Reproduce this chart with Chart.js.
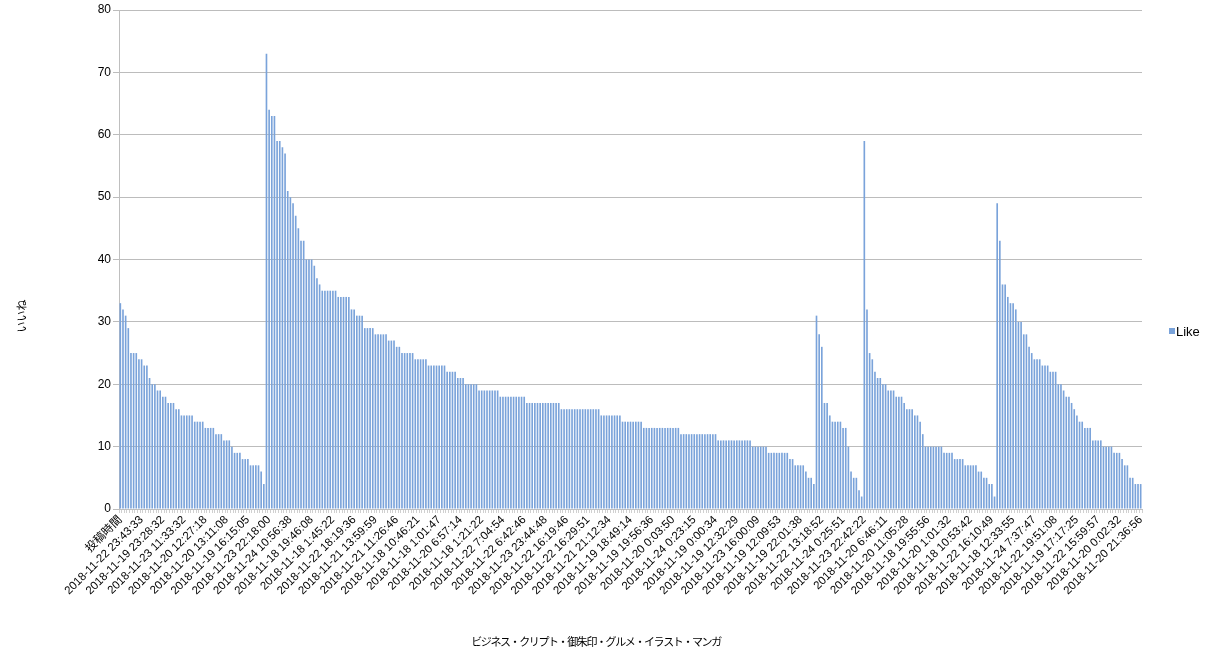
<!DOCTYPE html>
<html>
<head>
<meta charset="utf-8">
<script src="https://cdn.jsdelivr.net/npm/chart.js@4/dist/chart.umd.min.js"></script>
<style>
html,body{margin:0;padding:0;background:#fff;}
#wrap{width:1214px;height:656px;position:relative;}
</style>
</head>
<body>
<div id="wrap"><canvas id="c" width="1214" height="656"></canvas></div>
<script>
// ---- data ----
const seriesName = 'Like';
const yTitle = 'いいね';
const xTitle = 'ビジネス・クリプト・御朱印・グルメ・イラスト・マンガ';
const yTicks = [0, 10, 20, 30, 40, 50, 60, 70, 80];
const labelStep = 8;
const tickLabels = ['投稿時間','2018-11-22 23:43:33','2018-11-19 23:28:32','2018-11-23 11:33:32','2018-11-20 12:27:18','2018-11-20 13:11:08','2018-11-19 16:15:05','2018-11-23 22:18:00','2018-11-24 10:56:38','2018-11-18 19:46:08','2018-11-18 1:45:22','2018-11-22 18:19:36','2018-11-21 13:59:59','2018-11-21 11:26:46','2018-11-18 10:46:21','2018-11-18 1:01:47','2018-11-20 6:57:14','2018-11-18 1:21:22','2018-11-22 7:04:54','2018-11-22 6:42:46','2018-11-23 23:44:48','2018-11-22 16:19:46','2018-11-22 16:29:51','2018-11-21 21:12:34','2018-11-19 18:49:14','2018-11-19 19:56:36','2018-11-20 0:03:50','2018-11-24 0:23:15','2018-11-19 0:00:34','2018-11-19 12:32:29','2018-11-23 16:00:09','2018-11-19 12:09:53','2018-11-19 22:01:38','2018-11-22 13:18:52','2018-11-24 0:25:51','2018-11-23 22:42:22','2018-11-20 6:46:11','2018-11-20 11:05:28','2018-11-18 19:55:56','2018-11-20 1:01:32','2018-11-18 10:53:42','2018-11-22 16:10:49','2018-11-18 12:33:55','2018-11-24 7:37:47','2018-11-22 19:51:08','2018-11-19 17:17:25','2018-11-22 15:59:57','2018-11-20 0:02:32','2018-11-20 21:36:56'];

const seg1 = [33,32,31,29,25,25,25,24,24,23,23,21,20,20,19,19,18,18,17,17,17,16,16,15,15,15,15,15,14,14,14,14,13,13,13,13,12,12,12,11,11,11,10,9,9,9,8,8,8,7,7,7,7,6,4];
const seg2 = [73,64,63,63,59,59,58,57,51,50,49,47,45,43,43,40,40,40,39,37,36,35,35,35,35,35,35,34,34,34,34,34,32,32,31,31,31,29,29,29,29,28,28,28,28,28,27,27,27,26,26,25,25,25,25,25,
  24,24,24,24,24,23,23,23,23,23,23,23,22,22,22,22,21,21,21,20,20,20,20,20,19,19,19,19,19,19,19,19,18,18,18,18,18,18,18,18,18,18,17,17,17,17,17,17,17,17,17,17,17,17,17,16,16,16,16,16,16,16,16,16,16,16,16,16,16,16,
  15,15,15,15,15,15,15,15,14,14,14,14,14,14,14,14,13,13,13,13,13,13,13,13,13,13,13,13,13,13,12,12,12,12,12,12,12,12,12,12,12,12,12,12,11,11,11,11,11,11,11,11,11,11,11,11,11,10,10,10,10,10,10,9,9,9,9,9,9,9,9,8,8,7,7,7,7,6,5,5,4];
const seg3 = [31,28,26,17,17,15,14,14,14,14,13,13,10,6,5,5,3,2];
const seg4 = [59,32,25,24,22,21,21,20,20,19,19,19,18,18,18,17,16,16,16,15,15,14,12,10,10,10,10,10,10,10,9,9,9,9,8,8,8,8,7,7,7,7,7,6,6,5,5,4,4,2];
const seg5 = [49,43,36,36,34,33,33,32,30,30,28,28,26,25,24,24,24,23,23,23,22,22,22,20,20,19,18,18,17,16,15,14,14,13,13,13,11,11,11,11,10,10,10,10,9,9,9,8,7,7,5,5,4,4,4];

const values = [].concat(seg1, seg2, seg3, seg4, seg5);
const categories = values.map((_, i) => (i % labelStep === 0 && tickLabels[i / labelStep] !== undefined) ? tickLabels[i / labelStep] : '');

// ---- style ----
const FONT = '"Liberation Sans", Arial, "Noto Sans CJK JP", sans-serif';
const JFONT = '"Noto Sans CJK JP", "Liberation Sans", sans-serif';
const BAR = '#7aa3da';

const textPlugin = {
  id: 'texts',
  afterDraw(chart) {
    const ctx = chart.ctx;
    ctx.save();
    ctx.fillStyle = '#000';
    ctx.font = '11px ' + JFONT;
    ctx.translate(22, 316);
    ctx.rotate(-Math.PI / 2);
    ctx.textAlign = 'center';
    ctx.textBaseline = 'middle';
    ctx.fillText(yTitle, 0, 0);
    ctx.restore();
    ctx.save();
    ctx.fillStyle = '#000';
    ctx.font = '11px ' + JFONT;
    try { ctx.letterSpacing = '-1.4px'; } catch (e) {}
    ctx.textAlign = 'center';
    ctx.textBaseline = 'middle';
    ctx.fillText(xTitle, 596, 642);
    try { ctx.letterSpacing = '0px'; } catch (e) {}
    ctx.fillStyle = BAR;
    ctx.fillRect(1169, 328, 6, 6);
    ctx.fillStyle = '#000';
    ctx.font = '13px ' + FONT;
    ctx.textAlign = 'left';
    ctx.fillText(seriesName, 1176, 332);
    ctx.restore();
  }
};

new Chart(document.getElementById('c'), {
  type: 'bar',
  data: {
    labels: categories,
    datasets: [{
      label: seriesName,
      data: values,
      backgroundColor: BAR,
      borderWidth: 0,
      barPercentage: 0.62,
      categoryPercentage: 1.0
    }]
  },
  options: {
    responsive: false,
    devicePixelRatio: 1,
    animation: false,
    layout: { padding: { left: 0, top: 10, right: 72, bottom: 0 } },
    plugins: { legend: { display: false }, tooltip: { enabled: false } },
    scales: {
      x: {
        offset: true,
        grid: { display: true, drawOnChartArea: false, drawTicks: true, tickLength: 4, color: '#d0d0d0', offset: true },
        border: { display: true, color: '#bfbfbf' },
        ticks: {
          autoSkip: false, minRotation: 45, maxRotation: 45, padding: 0,
          color: '#000', font: { family: FONT, size: 11.5 }
        },
        afterFit(s) { s.height = 147; }
      },
      y: {
        min: 0, max: 80,
        afterBuildTicks(s) { s.ticks = yTicks.map(v => ({ value: v })); },
        grid: { color: '#bcbcbc', tickLength: 6, drawTicks: true },
        border: { display: true, color: '#bfbfbf' },
        ticks: { padding: 2, color: '#000', font: { family: FONT, size: 12 } },
        afterFit(s) { s.width = 119; }
      }
    }
  },
  plugins: [textPlugin]
});
</script>
</body>
</html>
